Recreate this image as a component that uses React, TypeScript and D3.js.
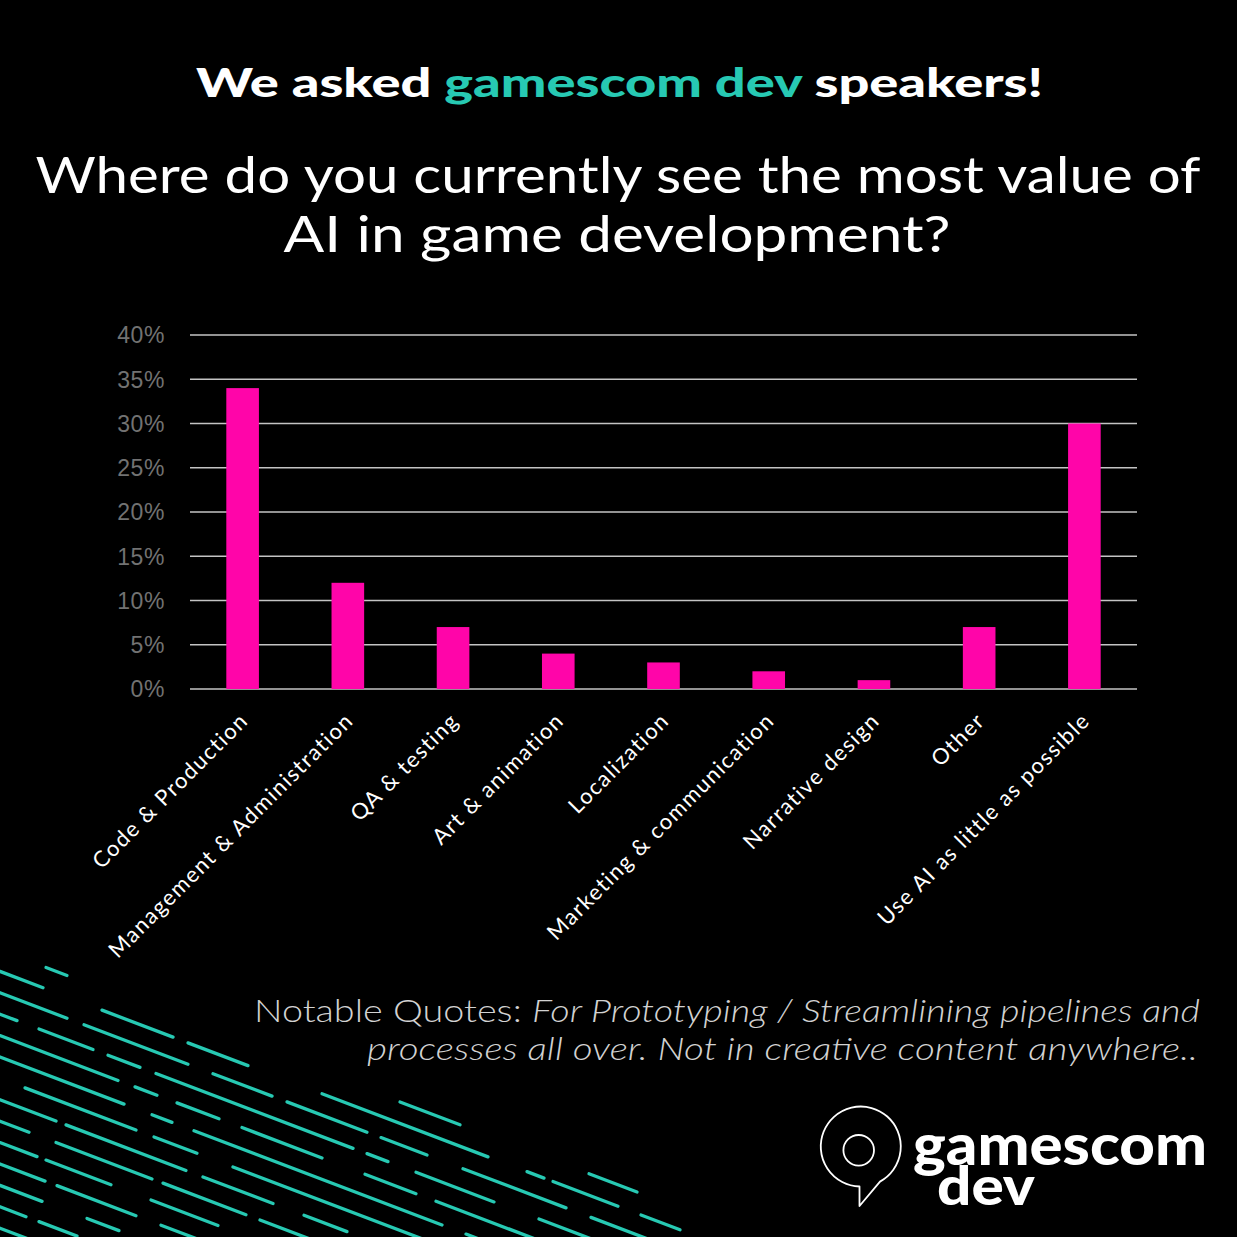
import * as d3 from 'd3';

const categories = [
	"Code & Production",
	"Management & Administration",
	"QA & testing",
	"Art & animation",
	"Localization",
	"Marketing & communication",
	"Narrative design",
	"Other",
	"Use AI as little as possible",
];
const shares = [0.34, 0.12, 0.07, 0.04, 0.03, 0.02, 0.01, 0.07, 0.30];
const yTicks = [0, 0.05, 0.1, 0.15, 0.2, 0.25, 0.3, 0.35, 0.4];

// decorative teal dashes, one list of [xStart, xEnd] per diagonal lane
const decoLanes: [number, number][][] = [
	[[46, 67], [400, 460], [589, 637]],
	[[0, 43], [102, 173], [188, 248], [322, 488], [527, 544], [553, 618], [641, 680]],
	[[0, 67], [84, 188], [213, 272], [287, 367], [381, 427], [463, 566], [591, 650]],
	[[0, 17], [39, 93], [108, 140], [156, 353], [367, 388], [416, 494], [539, 600]],
	[[0, 118], [135, 157], [177, 219], [242, 322], [365, 416], [436, 540]],
	[[0, 124], [152, 172], [194, 442], [466, 490]],
	[[25, 136], [154, 197], [233, 430]],
	[[0, 56], [66, 186], [203, 273], [304, 347]],
	[[0, 29], [56, 152], [163, 246], [260, 310]],
	[[0, 37], [46, 111], [151, 218]],
	[[0, 45], [57, 136], [161, 200]],
	[[0, 42], [87, 119]],
	[[0, 26], [39, 77]],
	[[0, 30]],
];

const W = 1237;
const H = 1237;
const TEAL = "#27c9b3";
const PINK = "#ff05a9";
const FONT = "Lato, 'Noto Sans', sans-serif";

export default function App() {
	const x = d3.scaleBand<string>()
		.domain(categories)
		.range([190, 1137])
		.paddingInner(0.69)
		.paddingOuter(0.345);

	const y = d3.scaleLinear()
		.domain([0, 0.4])
		.range([689, 335]);

	const fmt = d3.format(".0%");

	// lane geometry: y = c + slope * x
	const slope = 0.38;
	const laneC = (i: number) => 950 + 21.4 * i;
	const dashes = decoLanes.flatMap((lane, i) =>
		lane.map(([a, b]) => ({ x1: a, y1: laneC(i) + slope * a, x2: b, y2: laneC(i) + slope * b }))
	);

	return (
		<svg width={W} height={H} style={{ position: "absolute", left: 0, top: 0, background: "#000" }}>
			<rect width={W} height={H} fill="#000" />

			{/* decoration */}
			<g stroke={TEAL} strokeWidth={3.3} strokeLinecap="round">
				{dashes.map((d, i) => (
					<line key={i} x1={d.x1} y1={d.y1} x2={d.x2} y2={d.y2} />
				))}
			</g>

			{/* headline */}
			<text x={196} y={97} fontFamily={FONT} fontWeight={900} fontSize={40} fill="#fff"
				textLength={847} lengthAdjust="spacingAndGlyphs">
				We asked <tspan fill={TEAL}>gamescom dev</tspan> speakers!
			</text>
			<text x={618} y={193} textAnchor="middle" fontFamily={FONT} fontSize={50} fill="#fff"
				textLength={1165} lengthAdjust="spacingAndGlyphs">
				Where do you currently see the most value of
			</text>
			<text x={617} y={252} textAnchor="middle" fontFamily={FONT} fontSize={50} fill="#fff"
				textLength={667} lengthAdjust="spacingAndGlyphs">
				AI in game development?
			</text>

			{/* grid + y axis */}
			<g>
				{yTicks.map(t => (
					<g key={t}>
						<line x1={190} x2={1137} y1={y(t)} y2={y(t)} stroke="#c4c4c4" strokeWidth={1.5} />
						<text x={165} y={y(t)} dy="0.36em" textAnchor="end" fontFamily="'Liberation Sans', Arial, sans-serif"
							fontSize={23} letterSpacing={0.6} fill="#727272">{fmt(t)}</text>
					</g>
				))}
			</g>

			{/* bars */}
			<g fill={PINK}>
				{categories.map((c, i) => (
					<rect key={c} x={x(c)} y={y(shares[i])} width={x.bandwidth()} height={y(0) - y(shares[i])} />
				))}
			</g>

			{/* x labels */}
			<g>
				{categories.map(c => {
					const cx = (x(c) ?? 0) + x.bandwidth() / 2;
					return (
						<text key={c} transform={`translate(${cx + 7},${722}) rotate(-45)`} textAnchor="end"
							fontFamily={FONT} fontSize={22} letterSpacing={1.5} fill="#fff">{c}</text>
					);
				})}
			</g>

			{/* quotes */}
			<text x={1200} y={1022} textAnchor="end" fontFamily={FONT} fontWeight={300} fontSize={31} fill="#d2d2d2"
				textLength={946} lengthAdjust="spacingAndGlyphs">
				Notable Quotes: <tspan fontStyle="italic">For Prototyping  /  Streamlining pipelines and</tspan>
			</text>
			<text x={1198} y={1060} textAnchor="end" fontFamily={FONT} fontWeight={300} fontStyle="italic" fontSize={31}
				fill="#d2d2d2" textLength={831} lengthAdjust="spacingAndGlyphs">
				processes all over. Not in creative content anywhere..
			</text>

			{/* logo */}
			<g fill="none" stroke="#fff" strokeWidth={1.8} strokeLinejoin="round">
				<path d="M 859.5 1186.5 L 859.5 1206 L 880 1181.6 A 40 40 0 1 0 859.5 1186.5 Z" />
				<circle cx={858.7} cy={1150.3} r={15.3} />
			</g>
			<text fontFamily={FONT} fontWeight={900} fill="#fff">
				<tspan x={913} y={1165} fontSize={58} textLength={294} lengthAdjust="spacingAndGlyphs">gamescom</tspan>
				<tspan x={937} y={1205} fontSize={54} textLength={98} lengthAdjust="spacingAndGlyphs">dev</tspan>
			</text>
		</svg>
	);
}
